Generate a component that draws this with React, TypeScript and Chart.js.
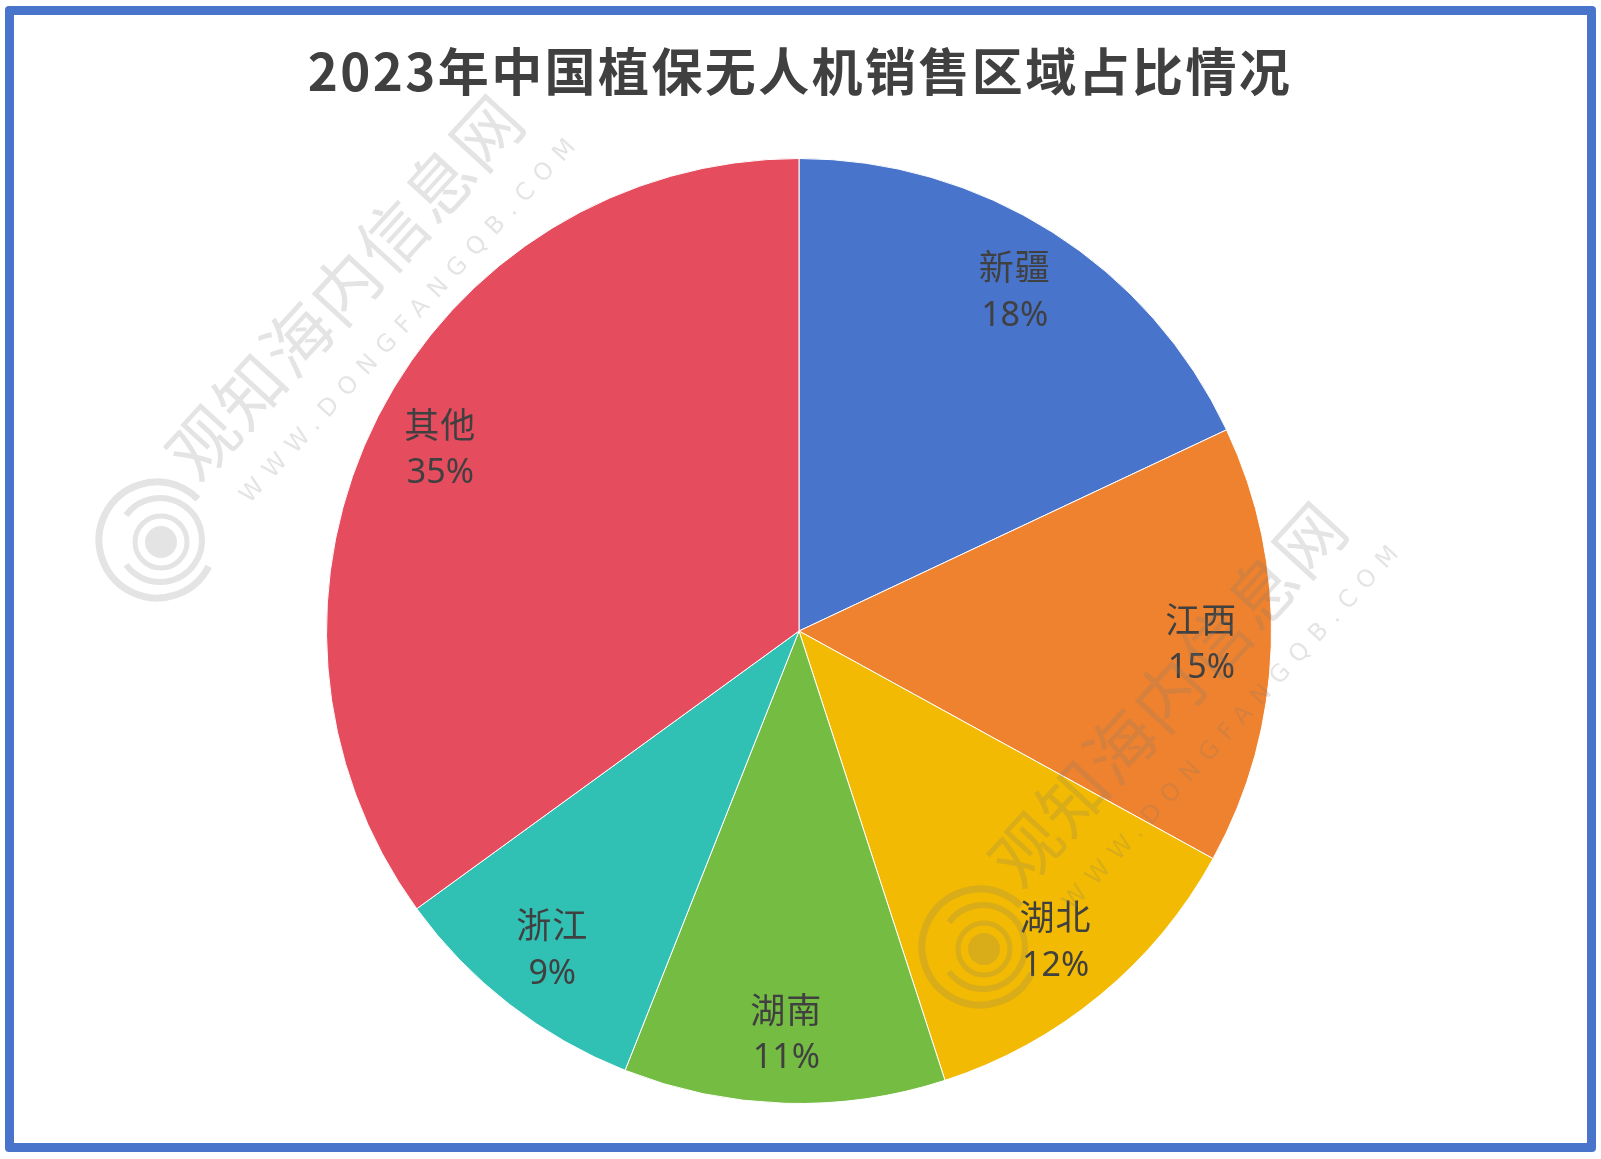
import React, { useEffect, useRef } from "react";
import { Chart, registerables } from "chart.js";

Chart.register(...registerables);

const TITLE = "2023年中国植保无人机销售区域占比情况";
const categories = ["新疆", "江西", "湖北", "湖南", "浙江", "其他"];
const shares = [18, 15, 12, 11, 9, 35];
const percentLabels = ["18%", "15%", "12%", "11%", "9%", "35%"];
const sliceColors = ["#4874CB", "#EE822F", "#F2BA02", "#75BD42", "#30C0B4", "#E54C5E"];
const WATERMARK_CN = "观知海内信息网";
const WATERMARK_EN = "WWW.DONGFANGQB.COM";

const W = 1601;
const H = 1159;

function drawWatermark(ctx: CanvasRenderingContext2D, ox: number, oy: number) {
  ctx.save();
  ctx.fillStyle = "rgba(120,120,120,0.2)";
  ctx.strokeStyle = "rgba(120,120,120,0.2)";
  ctx.save();
  ctx.translate(ox + 200, oy + 445);
  ctx.rotate((-47.5 * Math.PI) / 180);
  ctx.font = "68px 'Noto Sans CJK SC'";
  (ctx as any).letterSpacing = "2px";
  ctx.textBaseline = "middle";
  ctx.textAlign = "left";
  ctx.fillText(WATERMARK_CN, -30, 0);
  ctx.restore();
  ctx.save();
  ctx.translate(ox + 245, oy + 500);
  ctx.rotate((-47.5 * Math.PI) / 180);
  ctx.font = "24px 'DejaVu Sans'";
  (ctx as any).letterSpacing = "10px";
  ctx.textBaseline = "middle";
  ctx.textAlign = "left";
  ctx.fillText(WATERMARK_EN, 0, 0);
  ctx.restore();
  const cx = ox + 157;
  const cy = oy + 540;
  ctx.lineWidth = 7;
  ctx.beginPath();
  ctx.arc(cx, cy, 58, Math.PI * 0.15, Math.PI * 1.75);
  ctx.stroke();
  ctx.lineWidth = 6;
  ctx.beginPath();
  ctx.arc(cx + 3, cy, 42, Math.PI * 1.2, Math.PI * 2.8);
  ctx.stroke();
  ctx.lineWidth = 5;
  ctx.beginPath();
  ctx.arc(cx + 4, cy + 2, 26, 0, Math.PI * 2);
  ctx.stroke();
  ctx.beginPath();
  ctx.arc(cx + 4, cy + 2, 16, 0, Math.PI * 2);
  ctx.fill();
  ctx.restore();
}

const overlayPlugin = {
  id: "overlay",
  afterDatasetsDraw(chart: any) {
    const ctx: CanvasRenderingContext2D = chart.ctx;
    const meta = chart.getDatasetMeta(0);
    ctx.save();
    ctx.fillStyle = "#404040";
    ctx.textAlign = "center";
    ctx.textBaseline = "middle";
    meta.data.forEach((arc: any, i: number) => {
      const p = arc.getProps(["x", "y", "startAngle", "endAngle", "outerRadius"], true);
      const mid = (p.startAngle + p.endAngle) / 2;
      const r = p.outerRadius * 0.852;
      const x = p.x + Math.cos(mid) * r;
      const y = p.y + Math.sin(mid) * r;
      ctx.font = "35px 'Noto Sans CJK SC'";
      (ctx as any).letterSpacing = "1px";
      ctx.fillText(categories[i], x, y - 24);
      ctx.font = "34px 'Noto Sans'";
      (ctx as any).letterSpacing = "0px";
      ctx.fillText(percentLabels[i], x, y + 25);
    });
    ctx.restore();

    ctx.save();
    ctx.fillStyle = "#404040";
    ctx.textAlign = "center";
    ctx.textBaseline = "middle";
    ctx.font = "bold 51px 'Noto Sans CJK SC'";
    (ctx as any).letterSpacing = "2.4px";
    ctx.fillText(TITLE, 799 + 1, 72);
    ctx.restore();

    drawWatermark(ctx, 0, 0);
    drawWatermark(ctx, 823, 407);
  },
};

export default function App() {
  const ref = useRef<HTMLCanvasElement>(null);
  useEffect(() => {
    document.body.style.margin = "0";
    document.body.style.background = "#ffffff";
    const chart = new Chart(ref.current!, {
      type: "pie",
      data: {
        labels: categories,
        datasets: [
          {
            data: shares,
            backgroundColor: sliceColors,
            borderColor: "#ffffff",
            borderWidth: 1,
          },
        ],
      },
      options: {
        responsive: false,
        animation: false,
        layout: { padding: { top: 158, bottom: 55, left: 326, right: 329 } },
        plugins: {
          legend: { display: false },
          title: { display: false },
          tooltip: { enabled: false },
        },
      },
      plugins: [overlayPlugin],
    });
    return () => chart.destroy();
  }, []);
  return (
    <div style={{ position: "relative", width: W, height: H, background: "#fff" }}>
      <div
        style={{
          position: "absolute",
          left: 5,
          top: 6,
          width: 1591,
          height: 1146,
          boxSizing: "border-box",
          border: "9px solid #4874CB",
          borderRadius: 4,
          background: "#fff",
        }}
      />
      <canvas ref={ref} width={W} height={H} style={{ position: "absolute", left: 0, top: 0 }} />
    </div>
  );
}
